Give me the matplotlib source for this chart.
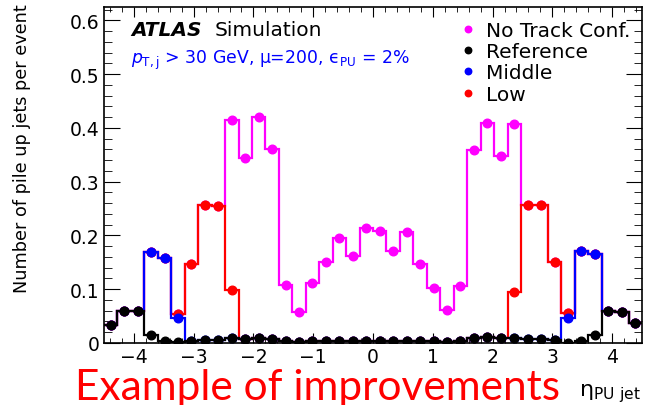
import numpy as np
import matplotlib
matplotlib.use('Agg')
import matplotlib.pyplot as plt
from matplotlib.ticker import MultipleLocator, FuncFormatter

plt.rcParams['font.family'] = ['DejaVu Sans']
plt.rcParams['mathtext.fontset'] = 'dejavusans'

# 40 bins in eta of the pile-up jet, -4.5 .. 4.5
eta_lo, eta_hi, n_bins = -4.5, 4.5, 40

reference = [0.034, 0.059, 0.059, 0.015, 0.003, 0.001, 0.003, 0.006, 0.006, 0.009,
             0.0075, 0.009, 0.0075, 0.003, 0.001, 0.003, 0.003, 0.004, 0.003, 0.004,
             0.004, 0.004, 0.004, 0.003, 0.003, 0.001, 0.003, 0.009, 0.011, 0.009,
             0.009, 0.0075, 0.0075, 0.006, 0.000, 0.003, 0.014, 0.059, 0.0575, 0.037]

middle = [0.034, 0.059, 0.059, 0.170, 0.159, 0.046, 0.003, 0.006, 0.006, 0.009,
          0.0075, 0.009, 0.0075, 0.003, 0.001, 0.003, 0.003, 0.004, 0.003, 0.004,
          0.004, 0.004, 0.004, 0.003, 0.003, 0.001, 0.003, 0.009, 0.011, 0.009,
          0.009, 0.0075, 0.0075, 0.006, 0.047, 0.171, 0.165, 0.059, 0.0575, 0.037]

low = [0.034, 0.059, 0.059, 0.170, 0.159, 0.054, 0.1475, 0.256, 0.254, 0.098,
       0.0075, 0.009, 0.0075, 0.003, 0.001, 0.003, 0.003, 0.004, 0.003, 0.004,
       0.004, 0.004, 0.004, 0.003, 0.003, 0.001, 0.003, 0.009, 0.011, 0.009,
       0.095, 0.256, 0.2575, 0.151, 0.056, 0.171, 0.165, 0.059, 0.0575, 0.037]

no_track = [0.034, 0.059, 0.059, 0.170, 0.159, 0.054, 0.1475, 0.256, 0.254, 0.415,
            0.345, 0.421, 0.360, 0.1075, 0.0575, 0.1125, 0.150, 0.195, 0.162, 0.214,
            0.209, 0.171, 0.206, 0.1475, 0.1025, 0.061, 0.106, 0.359, 0.409, 0.347,
            0.4075, 0.256, 0.2575, 0.151, 0.056, 0.171, 0.165, 0.059, 0.0575, 0.037]

# drawn in this order, later ones on top
series = [
    ('No Track Conf.', no_track, '#ff00ff'),
    ('Low', low, '#ff0000'),
    ('Middle', middle, '#0000ff'),
    ('Reference', reference, '#000000'),
]
legend_order = ['No Track Conf.', 'Reference', 'Middle', 'Low']

W, H = 656, 406
fig = plt.figure(figsize=(W / 100, H / 100), dpi=100)
ax = fig.add_axes([104 / W, 1 - 344 / H, (642 - 104) / W, (344 - 8) / H])

edges = np.linspace(eta_lo, eta_hi, n_bins + 1)
centers = 0.5 * (edges[:-1] + edges[1:])

handles = {}
z = 2
for name, vals, col in series:
    ax.stairs(vals, edges, baseline=None, color=col, lw=1.6, zorder=z)
    h, = ax.plot(centers, vals, 'o', color=col, ms=6.2, zorder=z + 1)
    handles[name] = h
    z += 2

ax.set_xlim(eta_lo, eta_hi)
ax.set_ylim(0, 0.625)

ax.xaxis.set_major_locator(MultipleLocator(1))
ax.xaxis.set_minor_locator(MultipleLocator(0.2))
ax.yaxis.set_major_locator(MultipleLocator(0.1))
ax.yaxis.set_minor_locator(MultipleLocator(0.02))
ax.yaxis.set_major_formatter(FuncFormatter(lambda v, p: '0' if abs(v) < 1e-9 else '%.1f' % v))

ax.tick_params(which='both', direction='in', top=True, right=True, labelsize=13.5)
ax.tick_params(axis='x', which='major', length=7, pad=3)
ax.tick_params(axis='x', which='minor', length=3.6)
ax.tick_params(axis='y', which='major', length=11.5, pad=3)
ax.tick_params(axis='y', which='minor', length=5.8)
for sp in ax.spines.values():
    sp.set_linewidth(1.2)
    sp.set_zorder(20)

fig.text(22 / W, 1 - 4 / H, 'Number of pile up jets per event', rotation=90,
         ha='center', va='top', fontsize=12.7)
fig.text(641 / W, 1 - 396 / H, r'η$_{\mathrm{PU\ jet}}$', ha='right',
         va='baseline', fontsize=16)

fig.text(131 / W, 1 - 36 / H, 'ATLAS', fontweight='bold', fontstyle='italic',
         fontsize=14.5, va='baseline')
fig.text(215 / W, 1 - 36 / H, 'Simulation', fontsize=14.5, va='baseline')
fig.text(131 / W, 1 - 64 / H,
         r'$p_{\mathrm{T,j}}$ > 30 GeV, μ=200, ϵ$_{\mathrm{PU}}$ = 2%',
         color='#0000ff', fontsize=12.4, va='baseline')

ax.legend([handles[n] for n in legend_order], legend_order,
          loc='upper left', bbox_to_anchor=(460 / W, 1 - 22 / H),
          bbox_transform=fig.transFigure, frameon=False, fontsize=14.5,
          handlelength=0.8, handletextpad=0.5, labelspacing=0.11,
          borderpad=0, borderaxespad=0, markerscale=0.75)

fig.text(75 / W, 1 - 400 / H, 'Example of improvements', color='#ff0000',
         fontsize=30.5, family='Lato', va='baseline')

fig.savefig('out.png', dpi=100)
